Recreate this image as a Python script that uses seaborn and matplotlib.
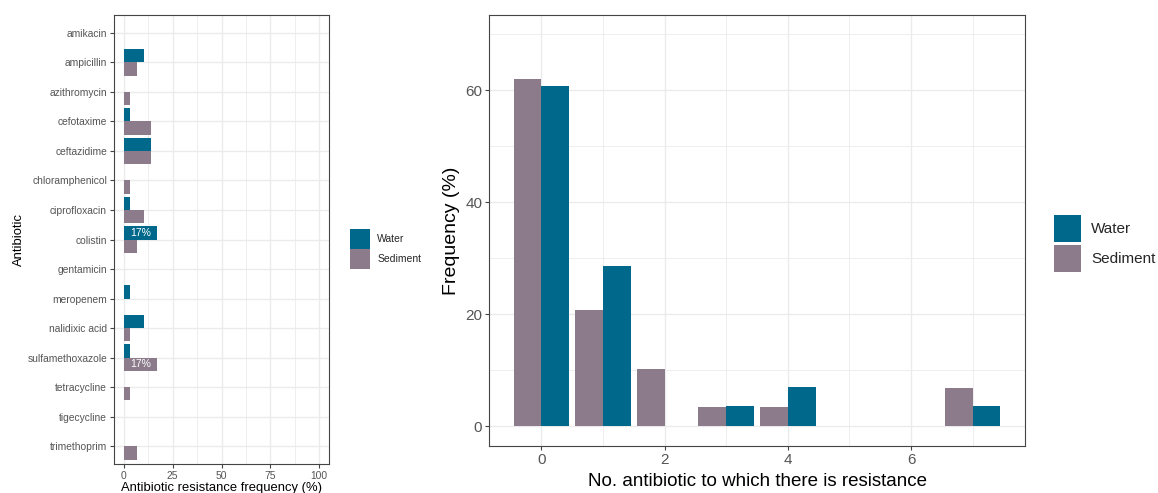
import numpy as np
import pandas as pd
import matplotlib
matplotlib.use("Agg")
import matplotlib.pyplot as plt
from matplotlib.patches import Patch
from matplotlib.ticker import FixedLocator
import seaborn as sns

# ---------------- data ----------------
antibiotics = ["amikacin", "ampicillin", "azithromycin", "cefotaxime", "ceftazidime",
               "chloramphenicol", "ciprofloxacin", "colistin", "gentamicin", "meropenem",
               "nalidixic acid", "sulfamethoxazole", "tetracycline", "tigecycline",
               "trimethoprim"]
water_freq = [0, 10.3, 0, 3.4, 13.8, 0, 3.4, 17.2, 0, 3.4, 10.3, 3.4, 0, 0, 0]
sediment_freq = [0, 6.9, 3.4, 13.8, 13.8, 3.4, 10.3, 6.9, 0, 0, 3.4, 17.2, 3.4, 0, 6.9]

n_resist = [0, 1, 2, 3, 4, 5, 6, 7]
water_dist = [60.7, 28.6, 0, 3.6, 7.1, 0, 0, 3.6]
sediment_dist = [62.1, 20.7, 10.3, 3.4, 3.4, 0, 0, 6.9]

sources = ["Water", "Sediment"]
palette = {"Water": "#00688B", "Sediment": "#8B7B8B"}

df_ab = pd.DataFrame({
    "Antibiotic": antibiotics * 2,
    "freq": water_freq + sediment_freq,
    "Source": ["Water"] * len(antibiotics) + ["Sediment"] * len(antibiotics),
})
df_n = pd.DataFrame({
    "n": n_resist * 2,
    "freq": water_dist + sediment_dist,
    "Source": ["Water"] * len(n_resist) + ["Sediment"] * len(n_resist),
})

# ---------------- style ----------------
sns.set_style("white")
plt.rcParams["font.family"] = ["Liberation Sans", "DejaVu Sans"]

GRID = "#EBEBEB"
BORDER = "#444444"
TICKLAB = "#555555"

fig = plt.figure(figsize=(11.58, 4.93), dpi=100)
ax1 = fig.add_axes([114 / 1158, 29 / 493, 215 / 1158, 449 / 493])
ax2 = fig.add_axes([489.3 / 1158, 47 / 493, 535.4 / 1158, 431.3 / 493])


def style_axes(ax, fs):
    ax.set_axisbelow(True)
    for s in ax.spines.values():
        s.set_visible(True)
        s.set_color(BORDER)
        s.set_linewidth(0.8)
    ax.tick_params(axis="both", which="major", color=BORDER, length=3, width=0.8,
                   labelcolor=TICKLAB, labelsize=fs, pad=2, bottom=True, left=True)
    ax.tick_params(axis="both", which="minor", length=0)


# ---------------- left panel ----------------
sns.barplot(data=df_ab, y="Antibiotic", x="freq", hue="Source", hue_order=sources,
            order=antibiotics, palette=palette, orient="h", width=0.9, gap=0,
            linewidth=0, saturation=1, errorbar=None, legend=False, ax=ax1)
style_axes(ax1, 7.4)
ax1.set_xlim(-5, 105)
ax1.set_ylim(len(antibiotics) - 0.4, -0.6)
ax1.xaxis.set_major_locator(FixedLocator([0, 25, 50, 75, 100]))
ax1.xaxis.set_minor_locator(FixedLocator([12.5, 37.5, 62.5, 87.5]))
ax1.grid(axis="x", which="major", color=GRID, linewidth=1.0)
ax1.grid(axis="x", which="minor", color=GRID, linewidth=0.6)
ax1.grid(axis="y", which="major", color=GRID, linewidth=1.0)
ax1.set_xlabel("Antibiotic resistance frequency (%)", fontsize=9.4, color="black")
ax1.set_ylabel("Antibiotic", fontsize=9.4, color="black")
ax1.xaxis.set_label_coords(0.5, -0.04)
ax1.yaxis.set_label_coords(-0.416, 0.5)

maxv = max(water_freq + sediment_freq)
for cont in ax1.containers:
    vals = np.asarray(cont.datavalues)
    labels = [f"{v:.0f}%" if np.isclose(v, maxv) else "" for v in vals]
    ax1.bar_label(cont, labels=labels, label_type="center", color="white", fontsize=7.5)

handles = [Patch(facecolor=palette[s], edgecolor="none", label=s) for s in sources]
fig.legend(handles=handles, loc="center left", bbox_to_anchor=(350 / 1158, 1 - 249 / 493),
           frameon=False, fontsize=7.5, handlelength=1.9, handleheight=2.6,
           labelspacing=0.0, handletextpad=0.7, borderpad=0, borderaxespad=0)

# ---------------- right panel ----------------
sns.barplot(data=df_n, x="n", y="freq", hue="Source", hue_order=["Sediment", "Water"],
            palette=palette, native_scale=True, width=0.9, gap=0, linewidth=0,
            saturation=1, errorbar=None, legend=False, ax=ax2)
style_axes(ax2, 11)
ax2.set_xlim(-0.845, 7.845)
ax2.set_ylim(-3.5, 73.5)
ax2.xaxis.set_major_locator(FixedLocator([0, 2, 4, 6]))
ax2.xaxis.set_minor_locator(FixedLocator([1, 3, 5, 7]))
ax2.yaxis.set_major_locator(FixedLocator([0, 20, 40, 60]))
ax2.yaxis.set_minor_locator(FixedLocator([10, 30, 50, 70]))
ax2.grid(which="major", color=GRID, linewidth=1.0)
ax2.grid(which="minor", color=GRID, linewidth=0.6)
ax2.set_xlabel("No. antibiotic to which there is resistance", fontsize=13.5, color="black")
ax2.set_ylabel("Frequency (%)", fontsize=14, color="black")
ax2.xaxis.set_label_coords(0.5, -0.062)
ax2.yaxis.set_label_coords(-0.055, 0.5)

fig.legend(handles=handles, loc="center left", bbox_to_anchor=(1054 / 1158, 1 - 243.5 / 493),
           frameon=False, fontsize=11, handlelength=1.78, handleheight=2.33,
           labelspacing=0.2, handletextpad=0.65, borderpad=0, borderaxespad=0)

fig.savefig("out.png", dpi=100)
